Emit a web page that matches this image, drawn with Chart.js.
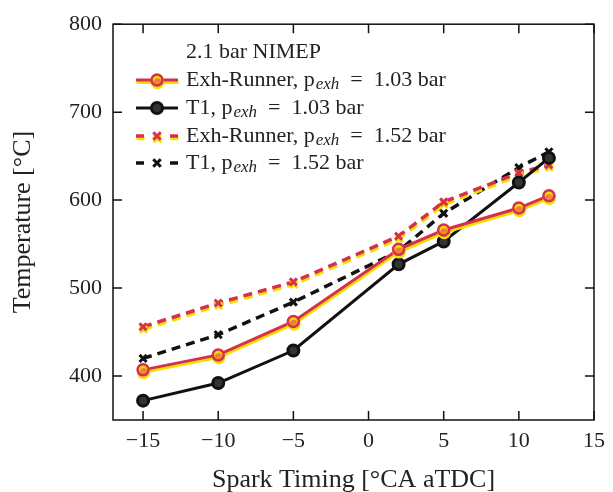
<!DOCTYPE html>
<html>
<head>
<meta charset="utf-8">
<script src="https://cdn.jsdelivr.net/npm/chart.js@4"></script>
<style>
html,body{margin:0;padding:0;background:#fff;}
#wrap{width:613px;height:492px;}
</style>
</head>
<body>
<div id="wrap"><canvas id="c" width="613" height="492"></canvas></div>
<script>
const sparkTiming = [-15, -10, -5, 2, 5, 10, 12];
const exhRunner103 = [407, 424, 462, 544, 566, 591, 605];
const t1_103 = [372, 392, 429, 527, 553, 620, 648];
const exhRunner152 = [456, 483, 507, 559, 598, 631, 640];
const t1_152 = [420, 447, 484, 542, 585, 637, 655];
const xTicks = [-15, -10, -5, 0, 5, 10, 15];
const yTicks = [400, 500, 600, 700, 800];
const legendTitle = "2.1 bar NIMEP";
const legendLabels = [
  ["Exh-Runner, p", "exh", "=", "1.03 bar"],
  ["T1, p", "exh", "=", "1.03 bar"],
  ["Exh-Runner, p", "exh", "=", "1.52 bar"],
  ["T1, p", "exh", "=", "1.52 bar"]
];

const RED = '#d83048';
const YEL = '#f3e000';
const BLK = '#111111';
const FONT = '"Liberation Serif", "DejaVu Serif", serif';

function pts(ys){ return sparkTiming.map((x,i)=>({x:x, y:ys[i]})); }

const datasets = [
  {label:legendLabels[0].join(' '), data:pts(exhRunner103), borderColor:RED, borderWidth:3,
   pointStyle:'circle', pointRadius:5.5, pointBorderWidth:2.5, pointBorderColor:RED, pointBackgroundColor:'rgba(236,110,70,0.75)', shadow:true},
  {label:legendLabels[1].join(' '), data:pts(t1_103), borderColor:BLK, borderWidth:3,
   pointStyle:'circle', pointRadius:5.5, pointBorderWidth:3, pointBorderColor:BLK, pointBackgroundColor:'#333'},
  {label:legendLabels[2].join(' '), data:pts(exhRunner152), borderColor:RED, borderWidth:3.5, borderDash:[9,6],
   pointStyle:'crossRot', pointRadius:5, pointBorderWidth:3, pointBorderColor:RED, shadow:true},
  {label:legendLabels[3].join(' '), data:pts(t1_152), borderColor:BLK, borderWidth:3.5, borderDash:[9,6],
   pointStyle:'crossRot', pointRadius:5, pointBorderWidth:3, pointBorderColor:BLK}
];

const shadowPlugin = {
  id:'shadow',
  beforeDatasetDraw(chart, args){
    const ds = chart.data.datasets[args.index];
    const ctx = chart.ctx;
    ctx.save();
    if (ds.shadow){
      ctx.shadowColor = YEL;
      ctx.shadowOffsetX = 0.5;
      ctx.shadowOffsetY = 2.5;
      ctx.shadowBlur = 0;
    }
  },
  afterDatasetDraw(chart){ chart.ctx.restore(); }
};

const framePlugin = {
  id:'frame',
  afterDraw(chart){
    const {ctx, chartArea:a, scales} = chart;
    ctx.save();
    ctx.strokeStyle = '#111';
    ctx.lineWidth = 1.5;
    ctx.strokeRect(a.left, a.top, a.right - a.left, a.bottom - a.top);
    const L = 9;
    ctx.beginPath();
    xTicks.forEach(v=>{
      const px = scales.x.getPixelForValue(v);
      ctx.moveTo(px, a.bottom); ctx.lineTo(px, a.bottom - L);
      ctx.moveTo(px, a.top); ctx.lineTo(px, a.top + L);
    });
    yTicks.forEach(v=>{
      const py = scales.y.getPixelForValue(v);
      ctx.moveTo(a.left, py); ctx.lineTo(a.left + L, py);
      ctx.moveTo(a.right, py); ctx.lineTo(a.right - L, py);
    });
    ctx.stroke();

    // legend
    const lx0 = 136, lx1 = 178, mx = 157, tx = 186;
    const rows = [80, 108, 136, 163];
    ctx.fillStyle = '#222';
    ctx.textBaseline = 'middle';
    ctx.font = '22px ' + FONT;
    ctx.fillText(legendTitle, 186, 52);
    datasets.forEach((ds, i)=>{
      const y = rows[i];
      ctx.save();
      if (ds.shadow){ ctx.shadowColor = YEL; ctx.shadowOffsetY = 2.5; ctx.shadowOffsetX = 0.5; ctx.shadowBlur = 0; }
      ctx.strokeStyle = ds.borderColor;
      ctx.lineWidth = ds.borderWidth;
      ctx.beginPath();
      if (ds.borderDash){
        ctx.moveTo(lx0, y); ctx.lineTo(lx0 + 8, y);
        ctx.moveTo(lx1 - 8, y); ctx.lineTo(lx1, y);
      } else {
        ctx.moveTo(lx0, y); ctx.lineTo(lx1, y);
      }
      ctx.stroke();
      ctx.lineWidth = ds.pointBorderWidth;
      ctx.strokeStyle = ds.pointBorderColor;
      if (ds.pointStyle === 'circle'){
        ctx.beginPath();
        ctx.arc(mx, y, ds.pointRadius, 0, Math.PI*2);
        ctx.fillStyle = ds.pointBackgroundColor;
        ctx.fill();
        ctx.stroke();
      } else {
        const r = ds.pointRadius * 0.75;
        ctx.beginPath();
        ctx.moveTo(mx - r, y - r); ctx.lineTo(mx + r, y + r);
        ctx.moveTo(mx + r, y - r); ctx.lineTo(mx - r, y + r);
        ctx.stroke();
      }
      ctx.restore();
      const parts = legendLabels[i];
      let x = tx;
      ctx.fillStyle = '#222';
      ctx.font = '22px ' + FONT;
      ctx.fillText(parts[0], x, y);
      x += ctx.measureText(parts[0]).width + 1;
      ctx.font = 'italic 17px ' + FONT;
      ctx.fillText(parts[1], x, y + 5);
      x += ctx.measureText(parts[1]).width + 11;
      ctx.font = '22px ' + FONT;
      ctx.fillText(parts[2], x, y);
      x += ctx.measureText(parts[2]).width + 11;
      ctx.fillText(parts[3], x, y);
    });
    ctx.restore();
  }
};

new Chart(document.getElementById('c'), {
  type:'line',
  data:{datasets:datasets},
  plugins:[shadowPlugin, framePlugin],
  options:{
    responsive:false,
    animation:false,
    devicePixelRatio:1,
    layout:{padding:{left:0, top:22, right:17, bottom:0}},
    plugins:{legend:{display:false}, tooltip:{enabled:false}},
    scales:{
      x:{type:'linear', min:-17, max:15,
        afterBuildTicks(s){ s.ticks = xTicks.map(v=>({value:v})); },
        afterFit(s){ s.height = 72; },
        grid:{display:false, drawTicks:false}, border:{display:false},
        ticks:{padding:8, color:'#222', font:{family:FONT, size:22}, callback:v=> v < 0 ? '\u2212' + Math.abs(v) : String(v)},
        title:{display:true, text:'Spark Timing [°CA aTDC]', color:'#222', font:{family:FONT, size:26}, padding:{top:0, bottom:-4}}
      },
      y:{type:'linear', min:350, max:800,
        afterBuildTicks(s){ s.ticks = yTicks.map(v=>({value:v})); },
        afterFit(s){ s.width = 113; },
        grid:{display:false, drawTicks:false}, border:{display:false},
        ticks:{padding:11, color:'#222', font:{family:FONT, size:22}},
        title:{display:true, text:'Temperature [°C]', color:'#222', font:{family:FONT, size:26}, padding:{top:8, bottom:0}}
      }
    }
  }
});
</script>
</body>
</html>
